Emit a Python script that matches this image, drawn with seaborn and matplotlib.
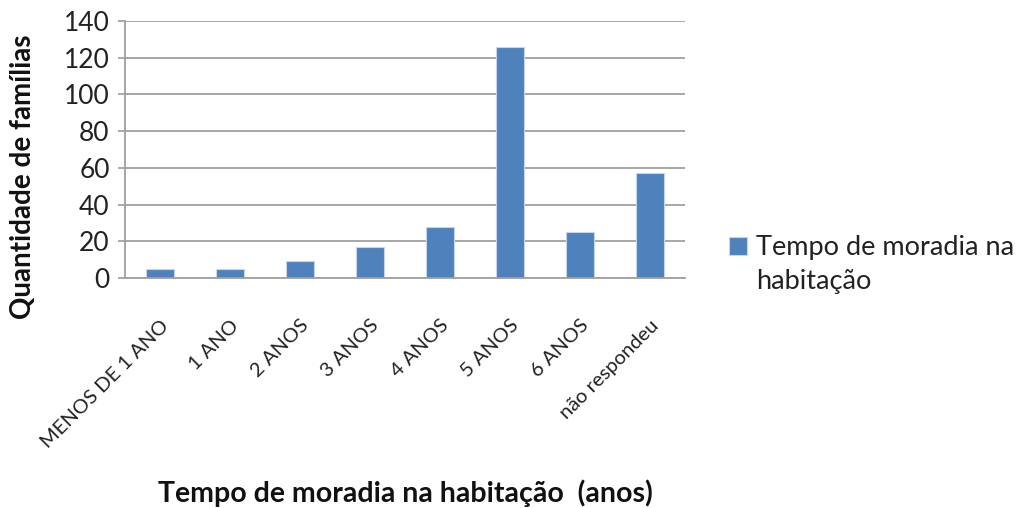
import matplotlib
matplotlib.use("Agg")
import matplotlib.pyplot as plt
import seaborn as sns
import pandas as pd

categories = ["MENOS DE 1 ANO", "1 ANO", "2 ANOS", "3 ANOS", "4 ANOS", "5 ANOS", "6 ANOS", "não respondeu"]
values = [5, 5, 9, 17, 28, 126, 25, 57]
series_name = "Tempo de moradia na\nhabitação"
yticks = [0, 20, 40, 60, 80, 100, 120, 140]

sns.set_theme(style="white")
plt.rcParams['font.family'] = ['Lato', 'DejaVu Sans']

df = pd.DataFrame({"cat": categories, "val": values, "serie": series_name})

fig = plt.figure(figsize=(10.27, 5.08), dpi=100)
ax = fig.add_axes([125/1027, 1-278/508, 560/1027, 257/508])

sns.barplot(data=df, x="cat", y="val", hue="serie", palette=["#4f81bd"], saturation=1,
            width=0.4, ax=ax, edgecolor="#c6d5ea", linewidth=0.8, dodge=False)

ax.set_ylim(0, 140)
ax.set_yticks(yticks)
ax.set_yticklabels([str(t) for t in yticks], fontsize=19, color="#222222")
ax.set_xlim(-0.5, len(categories) - 0.5)
ax.yaxis.grid(True, color="#a0a0a0", linewidth=1.3)
ax.set_axisbelow(True)
for s in ["top", "right"]:
    ax.spines[s].set_visible(False)
ax.spines["left"].set_color("#a0a0a0")
ax.spines["bottom"].set_color("#a0a0a0")
ax.spines["left"].set_linewidth(1.3)
ax.spines["bottom"].set_linewidth(1.3)
ax.tick_params(axis="y", left=True, length=5, color="#a0a0a0", pad=6)
ax.tick_params(axis="x", bottom=False, pad=22)
ax.set_xticks(range(len(categories)))
ax.set_xticklabels(categories, rotation=45, ha="right", rotation_mode="anchor",
                   fontsize=14.5, color="#222222")

ax.set_xlabel("Tempo de moradia na habitação  (anos)", fontsize=20.5, fontweight="bold",
              color="#111111")
ax.set_ylabel("Quantidade de famílias", fontsize=20, fontweight="bold", color="#111111")
ax.xaxis.set_label_coords(0.5, -(479 - 278) / 257)
ax.yaxis.set_label_coords(-(125 - 36) / 560, (278 - 177) / 257)

leg = ax.legend(loc="center left", bbox_to_anchor=(729/1027, 1-265/508),
                bbox_transform=fig.transFigure, frameon=False, borderpad=0, borderaxespad=0,
                fontsize=19.5, handlelength=0.65, handleheight=0.65, handletextpad=0.35)
for t in leg.get_texts():
    t.set_color("#222222")
    t.set_linespacing(1.45)
h = leg.legend_handles[0]
h.set_y(h.get_y() + 14)

fig.savefig("out.png", dpi=100)
